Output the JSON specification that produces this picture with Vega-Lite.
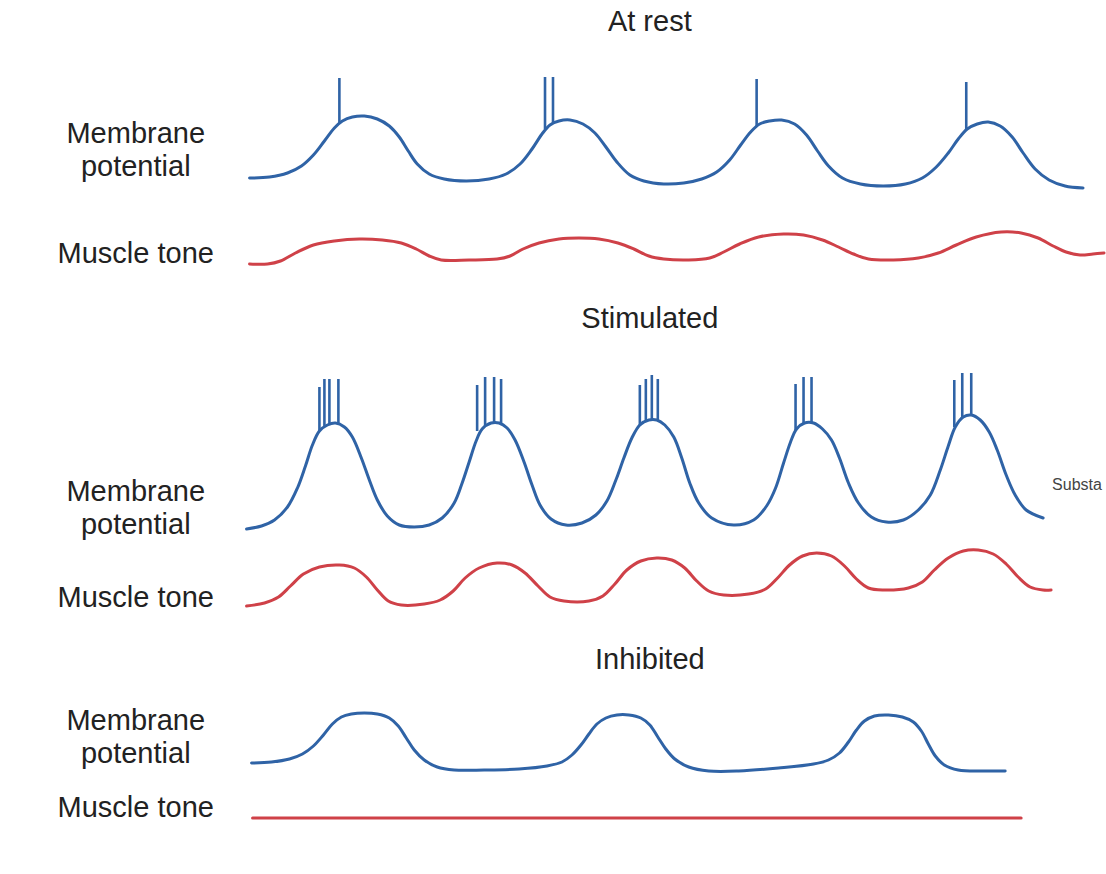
{
  "$schema": "https://vega.github.io/schema/vega-lite/v6.json",
  "width": 1106,
  "height": 874,
  "autosize": {"type": "fit", "contains": "padding"},
  "padding": 0,
  "background": "white",
  "config": {"view": {"stroke": null}},
  "datasets": {
    "curves": [
      {"trace":"rest_mp","signal":"Membrane potential","x":250,"y":178},{"trace":"rest_mp","signal":"Membrane potential","x":270,"y":177},{"trace":"rest_mp","signal":"Membrane potential","x":288,"y":173},{"trace":"rest_mp","signal":"Membrane potential","x":302,"y":166},{"trace":"rest_mp","signal":"Membrane potential","x":314,"y":155},{"trace":"rest_mp","signal":"Membrane potential","x":325,"y":141},{"trace":"rest_mp","signal":"Membrane potential","x":335,"y":128},{"trace":"rest_mp","signal":"Membrane potential","x":343,"y":121},{"trace":"rest_mp","signal":"Membrane potential","x":353,"y":117},{"trace":"rest_mp","signal":"Membrane potential","x":365,"y":116},{"trace":"rest_mp","signal":"Membrane potential","x":378,"y":119},{"trace":"rest_mp","signal":"Membrane potential","x":390,"y":126},{"trace":"rest_mp","signal":"Membrane potential","x":400,"y":137},{"trace":"rest_mp","signal":"Membrane potential","x":409,"y":151},{"trace":"rest_mp","signal":"Membrane potential","x":418,"y":164},{"trace":"rest_mp","signal":"Membrane potential","x":430,"y":174},{"trace":"rest_mp","signal":"Membrane potential","x":445,"y":179},{"trace":"rest_mp","signal":"Membrane potential","x":467,"y":181},{"trace":"rest_mp","signal":"Membrane potential","x":490,"y":179},{"trace":"rest_mp","signal":"Membrane potential","x":507,"y":174},{"trace":"rest_mp","signal":"Membrane potential","x":521,"y":164},{"trace":"rest_mp","signal":"Membrane potential","x":533,"y":149},{"trace":"rest_mp","signal":"Membrane potential","x":543,"y":134},{"trace":"rest_mp","signal":"Membrane potential","x":551,"y":125},{"trace":"rest_mp","signal":"Membrane potential","x":560,"y":121},{"trace":"rest_mp","signal":"Membrane potential","x":571,"y":120},{"trace":"rest_mp","signal":"Membrane potential","x":584,"y":124},{"trace":"rest_mp","signal":"Membrane potential","x":596,"y":133},{"trace":"rest_mp","signal":"Membrane potential","x":607,"y":147},{"trace":"rest_mp","signal":"Membrane potential","x":618,"y":162},{"trace":"rest_mp","signal":"Membrane potential","x":631,"y":175},{"trace":"rest_mp","signal":"Membrane potential","x":645,"y":181},{"trace":"rest_mp","signal":"Membrane potential","x":665,"y":184},{"trace":"rest_mp","signal":"Membrane potential","x":685,"y":183},{"trace":"rest_mp","signal":"Membrane potential","x":703,"y":179},{"trace":"rest_mp","signal":"Membrane potential","x":718,"y":172},{"trace":"rest_mp","signal":"Membrane potential","x":731,"y":160},{"trace":"rest_mp","signal":"Membrane potential","x":742,"y":145},{"trace":"rest_mp","signal":"Membrane potential","x":752,"y":132},{"trace":"rest_mp","signal":"Membrane potential","x":761,"y":124},{"trace":"rest_mp","signal":"Membrane potential","x":771,"y":121},{"trace":"rest_mp","signal":"Membrane potential","x":783,"y":120},{"trace":"rest_mp","signal":"Membrane potential","x":796,"y":124},{"trace":"rest_mp","signal":"Membrane potential","x":808,"y":135},{"trace":"rest_mp","signal":"Membrane potential","x":819,"y":151},{"trace":"rest_mp","signal":"Membrane potential","x":830,"y":166},{"trace":"rest_mp","signal":"Membrane potential","x":844,"y":178},{"trace":"rest_mp","signal":"Membrane potential","x":862,"y":184},{"trace":"rest_mp","signal":"Membrane potential","x":885,"y":186},{"trace":"rest_mp","signal":"Membrane potential","x":907,"y":184},{"trace":"rest_mp","signal":"Membrane potential","x":924,"y":178},{"trace":"rest_mp","signal":"Membrane potential","x":938,"y":167},{"trace":"rest_mp","signal":"Membrane potential","x":950,"y":153},{"trace":"rest_mp","signal":"Membrane potential","x":960,"y":139},{"trace":"rest_mp","signal":"Membrane potential","x":969,"y":129},{"trace":"rest_mp","signal":"Membrane potential","x":979,"y":124},{"trace":"rest_mp","signal":"Membrane potential","x":990,"y":122},{"trace":"rest_mp","signal":"Membrane potential","x":1002,"y":126},{"trace":"rest_mp","signal":"Membrane potential","x":1014,"y":137},{"trace":"rest_mp","signal":"Membrane potential","x":1025,"y":153},{"trace":"rest_mp","signal":"Membrane potential","x":1037,"y":169},{"trace":"rest_mp","signal":"Membrane potential","x":1051,"y":180},{"trace":"rest_mp","signal":"Membrane potential","x":1067,"y":186},{"trace":"rest_mp","signal":"Membrane potential","x":1085,"y":188},

      {"trace":"rest_mt","signal":"Muscle tone","x":250,"y":264},{"trace":"rest_mt","signal":"Muscle tone","x":268,"y":264},{"trace":"rest_mt","signal":"Muscle tone","x":281,"y":261},{"trace":"rest_mt","signal":"Muscle tone","x":296,"y":253},{"trace":"rest_mt","signal":"Muscle tone","x":314,"y":245},{"trace":"rest_mt","signal":"Muscle tone","x":335,"y":241},{"trace":"rest_mt","signal":"Muscle tone","x":360,"y":239},{"trace":"rest_mt","signal":"Muscle tone","x":383,"y":240},{"trace":"rest_mt","signal":"Muscle tone","x":402,"y":243},{"trace":"rest_mt","signal":"Muscle tone","x":417,"y":249},{"trace":"rest_mt","signal":"Muscle tone","x":430,"y":256},{"trace":"rest_mt","signal":"Muscle tone","x":442,"y":260},{"trace":"rest_mt","signal":"Muscle tone","x":470,"y":260},{"trace":"rest_mt","signal":"Muscle tone","x":498,"y":259},{"trace":"rest_mt","signal":"Muscle tone","x":511,"y":256},{"trace":"rest_mt","signal":"Muscle tone","x":524,"y":249},{"trace":"rest_mt","signal":"Muscle tone","x":540,"y":243},{"trace":"rest_mt","signal":"Muscle tone","x":560,"y":239},{"trace":"rest_mt","signal":"Muscle tone","x":580,"y":238},{"trace":"rest_mt","signal":"Muscle tone","x":600,"y":239},{"trace":"rest_mt","signal":"Muscle tone","x":619,"y":243},{"trace":"rest_mt","signal":"Muscle tone","x":635,"y":249},{"trace":"rest_mt","signal":"Muscle tone","x":650,"y":256},{"trace":"rest_mt","signal":"Muscle tone","x":665,"y":259},{"trace":"rest_mt","signal":"Muscle tone","x":690,"y":260},{"trace":"rest_mt","signal":"Muscle tone","x":711,"y":258},{"trace":"rest_mt","signal":"Muscle tone","x":725,"y":252},{"trace":"rest_mt","signal":"Muscle tone","x":741,"y":244},{"trace":"rest_mt","signal":"Muscle tone","x":760,"y":237},{"trace":"rest_mt","signal":"Muscle tone","x":785,"y":234},{"trace":"rest_mt","signal":"Muscle tone","x":805,"y":235},{"trace":"rest_mt","signal":"Muscle tone","x":824,"y":240},{"trace":"rest_mt","signal":"Muscle tone","x":840,"y":247},{"trace":"rest_mt","signal":"Muscle tone","x":855,"y":254},{"trace":"rest_mt","signal":"Muscle tone","x":870,"y":259},{"trace":"rest_mt","signal":"Muscle tone","x":895,"y":260},{"trace":"rest_mt","signal":"Muscle tone","x":920,"y":258},{"trace":"rest_mt","signal":"Muscle tone","x":940,"y":253},{"trace":"rest_mt","signal":"Muscle tone","x":958,"y":245},{"trace":"rest_mt","signal":"Muscle tone","x":978,"y":237},{"trace":"rest_mt","signal":"Muscle tone","x":1003,"y":232},{"trace":"rest_mt","signal":"Muscle tone","x":1023,"y":233},{"trace":"rest_mt","signal":"Muscle tone","x":1040,"y":238},{"trace":"rest_mt","signal":"Muscle tone","x":1055,"y":246},{"trace":"rest_mt","signal":"Muscle tone","x":1068,"y":252},{"trace":"rest_mt","signal":"Muscle tone","x":1082,"y":255},{"trace":"rest_mt","signal":"Muscle tone","x":1095,"y":254},{"trace":"rest_mt","signal":"Muscle tone","x":1106,"y":253},

      {"trace":"stim_mp","signal":"Membrane potential","x":247,"y":529},{"trace":"stim_mp","signal":"Membrane potential","x":262,"y":526},{"trace":"stim_mp","signal":"Membrane potential","x":275,"y":520},{"trace":"stim_mp","signal":"Membrane potential","x":288,"y":507},{"trace":"stim_mp","signal":"Membrane potential","x":298,"y":488},{"trace":"stim_mp","signal":"Membrane potential","x":306,"y":466},{"trace":"stim_mp","signal":"Membrane potential","x":313,"y":445},{"trace":"stim_mp","signal":"Membrane potential","x":320,"y":431},{"trace":"stim_mp","signal":"Membrane potential","x":328,"y":425},{"trace":"stim_mp","signal":"Membrane potential","x":336,"y":423},{"trace":"stim_mp","signal":"Membrane potential","x":345,"y":427},{"trace":"stim_mp","signal":"Membrane potential","x":353,"y":437},{"trace":"stim_mp","signal":"Membrane potential","x":362,"y":458},{"trace":"stim_mp","signal":"Membrane potential","x":370,"y":480},{"trace":"stim_mp","signal":"Membrane potential","x":378,"y":500},{"trace":"stim_mp","signal":"Membrane potential","x":388,"y":516},{"trace":"stim_mp","signal":"Membrane potential","x":400,"y":525},{"trace":"stim_mp","signal":"Membrane potential","x":415,"y":527},{"trace":"stim_mp","signal":"Membrane potential","x":430,"y":525},{"trace":"stim_mp","signal":"Membrane potential","x":443,"y":518},{"trace":"stim_mp","signal":"Membrane potential","x":455,"y":503},{"trace":"stim_mp","signal":"Membrane potential","x":463,"y":483},{"trace":"stim_mp","signal":"Membrane potential","x":470,"y":462},{"trace":"stim_mp","signal":"Membrane potential","x":477,"y":441},{"trace":"stim_mp","signal":"Membrane potential","x":483,"y":429},{"trace":"stim_mp","signal":"Membrane potential","x":492,"y":423},{"trace":"stim_mp","signal":"Membrane potential","x":500,"y":423},{"trace":"stim_mp","signal":"Membrane potential","x":508,"y":428},{"trace":"stim_mp","signal":"Membrane potential","x":516,"y":440},{"trace":"stim_mp","signal":"Membrane potential","x":525,"y":462},{"trace":"stim_mp","signal":"Membrane potential","x":533,"y":485},{"trace":"stim_mp","signal":"Membrane potential","x":541,"y":505},{"trace":"stim_mp","signal":"Membrane potential","x":552,"y":519},{"trace":"stim_mp","signal":"Membrane potential","x":567,"y":525},{"trace":"stim_mp","signal":"Membrane potential","x":583,"y":523},{"trace":"stim_mp","signal":"Membrane potential","x":597,"y":515},{"trace":"stim_mp","signal":"Membrane potential","x":608,"y":501},{"trace":"stim_mp","signal":"Membrane potential","x":617,"y":480},{"trace":"stim_mp","signal":"Membrane potential","x":625,"y":458},{"trace":"stim_mp","signal":"Membrane potential","x":633,"y":438},{"trace":"stim_mp","signal":"Membrane potential","x":641,"y":425},{"trace":"stim_mp","signal":"Membrane potential","x":650,"y":420},{"trace":"stim_mp","signal":"Membrane potential","x":658,"y":420},{"trace":"stim_mp","signal":"Membrane potential","x":666,"y":425},{"trace":"stim_mp","signal":"Membrane potential","x":675,"y":437},{"trace":"stim_mp","signal":"Membrane potential","x":683,"y":458},{"trace":"stim_mp","signal":"Membrane potential","x":691,"y":483},{"trace":"stim_mp","signal":"Membrane potential","x":700,"y":503},{"trace":"stim_mp","signal":"Membrane potential","x":713,"y":518},{"trace":"stim_mp","signal":"Membrane potential","x":735,"y":525},{"trace":"stim_mp","signal":"Membrane potential","x":755,"y":520},{"trace":"stim_mp","signal":"Membrane potential","x":768,"y":506},{"trace":"stim_mp","signal":"Membrane potential","x":777,"y":488},{"trace":"stim_mp","signal":"Membrane potential","x":785,"y":463},{"trace":"stim_mp","signal":"Membrane potential","x":792,"y":442},{"trace":"stim_mp","signal":"Membrane potential","x":798,"y":429},{"trace":"stim_mp","signal":"Membrane potential","x":806,"y":423},{"trace":"stim_mp","signal":"Membrane potential","x":815,"y":423},{"trace":"stim_mp","signal":"Membrane potential","x":824,"y":429},{"trace":"stim_mp","signal":"Membrane potential","x":833,"y":440},{"trace":"stim_mp","signal":"Membrane potential","x":841,"y":458},{"trace":"stim_mp","signal":"Membrane potential","x":850,"y":483},{"trace":"stim_mp","signal":"Membrane potential","x":860,"y":503},{"trace":"stim_mp","signal":"Membrane potential","x":873,"y":517},{"trace":"stim_mp","signal":"Membrane potential","x":888,"y":522},{"trace":"stim_mp","signal":"Membrane potential","x":905,"y":520},{"trace":"stim_mp","signal":"Membrane potential","x":920,"y":510},{"trace":"stim_mp","signal":"Membrane potential","x":932,"y":495},{"trace":"stim_mp","signal":"Membrane potential","x":942,"y":470},{"trace":"stim_mp","signal":"Membrane potential","x":950,"y":446},{"trace":"stim_mp","signal":"Membrane potential","x":957,"y":427},{"trace":"stim_mp","signal":"Membrane potential","x":965,"y":417},{"trace":"stim_mp","signal":"Membrane potential","x":973,"y":415},{"trace":"stim_mp","signal":"Membrane potential","x":982,"y":420},{"trace":"stim_mp","signal":"Membrane potential","x":991,"y":432},{"trace":"stim_mp","signal":"Membrane potential","x":999,"y":450},{"trace":"stim_mp","signal":"Membrane potential","x":1008,"y":475},{"trace":"stim_mp","signal":"Membrane potential","x":1017,"y":495},{"trace":"stim_mp","signal":"Membrane potential","x":1028,"y":510},{"trace":"stim_mp","signal":"Membrane potential","x":1045,"y":518},

      {"trace":"stim_mt","signal":"Muscle tone","x":247,"y":606},{"trace":"stim_mt","signal":"Muscle tone","x":265,"y":603},{"trace":"stim_mt","signal":"Muscle tone","x":279,"y":597},{"trace":"stim_mt","signal":"Muscle tone","x":291,"y":586},{"trace":"stim_mt","signal":"Muscle tone","x":304,"y":574},{"trace":"stim_mt","signal":"Muscle tone","x":320,"y":567},{"trace":"stim_mt","signal":"Muscle tone","x":340,"y":565},{"trace":"stim_mt","signal":"Muscle tone","x":355,"y":568},{"trace":"stim_mt","signal":"Muscle tone","x":367,"y":577},{"trace":"stim_mt","signal":"Muscle tone","x":378,"y":590},{"trace":"stim_mt","signal":"Muscle tone","x":389,"y":601},{"trace":"stim_mt","signal":"Muscle tone","x":402,"y":605},{"trace":"stim_mt","signal":"Muscle tone","x":425,"y":604},{"trace":"stim_mt","signal":"Muscle tone","x":441,"y":600},{"trace":"stim_mt","signal":"Muscle tone","x":454,"y":591},{"trace":"stim_mt","signal":"Muscle tone","x":466,"y":578},{"trace":"stim_mt","signal":"Muscle tone","x":480,"y":568},{"trace":"stim_mt","signal":"Muscle tone","x":498,"y":563},{"trace":"stim_mt","signal":"Muscle tone","x":513,"y":565},{"trace":"stim_mt","signal":"Muscle tone","x":526,"y":573},{"trace":"stim_mt","signal":"Muscle tone","x":539,"y":586},{"trace":"stim_mt","signal":"Muscle tone","x":551,"y":597},{"trace":"stim_mt","signal":"Muscle tone","x":565,"y":601},{"trace":"stim_mt","signal":"Muscle tone","x":590,"y":601},{"trace":"stim_mt","signal":"Muscle tone","x":604,"y":596},{"trace":"stim_mt","signal":"Muscle tone","x":616,"y":584},{"trace":"stim_mt","signal":"Muscle tone","x":628,"y":570},{"trace":"stim_mt","signal":"Muscle tone","x":642,"y":561},{"trace":"stim_mt","signal":"Muscle tone","x":658,"y":558},{"trace":"stim_mt","signal":"Muscle tone","x":673,"y":560},{"trace":"stim_mt","signal":"Muscle tone","x":686,"y":568},{"trace":"stim_mt","signal":"Muscle tone","x":698,"y":581},{"trace":"stim_mt","signal":"Muscle tone","x":710,"y":591},{"trace":"stim_mt","signal":"Muscle tone","x":725,"y":595},{"trace":"stim_mt","signal":"Muscle tone","x":750,"y":594},{"trace":"stim_mt","signal":"Muscle tone","x":767,"y":589},{"trace":"stim_mt","signal":"Muscle tone","x":779,"y":578},{"trace":"stim_mt","signal":"Muscle tone","x":791,"y":565},{"trace":"stim_mt","signal":"Muscle tone","x":804,"y":556},{"trace":"stim_mt","signal":"Muscle tone","x":818,"y":553},{"trace":"stim_mt","signal":"Muscle tone","x":833,"y":556},{"trace":"stim_mt","signal":"Muscle tone","x":846,"y":566},{"trace":"stim_mt","signal":"Muscle tone","x":858,"y":579},{"trace":"stim_mt","signal":"Muscle tone","x":870,"y":588},{"trace":"stim_mt","signal":"Muscle tone","x":885,"y":590},{"trace":"stim_mt","signal":"Muscle tone","x":910,"y":588},{"trace":"stim_mt","signal":"Muscle tone","x":924,"y":582},{"trace":"stim_mt","signal":"Muscle tone","x":936,"y":570},{"trace":"stim_mt","signal":"Muscle tone","x":950,"y":558},{"trace":"stim_mt","signal":"Muscle tone","x":965,"y":551},{"trace":"stim_mt","signal":"Muscle tone","x":980,"y":550},{"trace":"stim_mt","signal":"Muscle tone","x":995,"y":554},{"trace":"stim_mt","signal":"Muscle tone","x":1008,"y":564},{"trace":"stim_mt","signal":"Muscle tone","x":1020,"y":577},{"trace":"stim_mt","signal":"Muscle tone","x":1032,"y":587},{"trace":"stim_mt","signal":"Muscle tone","x":1045,"y":590},{"trace":"stim_mt","signal":"Muscle tone","x":1053,"y":590},

      {"trace":"inh_mp","signal":"Membrane potential","x":252,"y":763},{"trace":"inh_mp","signal":"Membrane potential","x":272,"y":762},{"trace":"inh_mp","signal":"Membrane potential","x":290,"y":759},{"trace":"inh_mp","signal":"Membrane potential","x":303,"y":754},{"trace":"inh_mp","signal":"Membrane potential","x":314,"y":746},{"trace":"inh_mp","signal":"Membrane potential","x":324,"y":735},{"trace":"inh_mp","signal":"Membrane potential","x":333,"y":724},{"trace":"inh_mp","signal":"Membrane potential","x":342,"y":717},{"trace":"inh_mp","signal":"Membrane potential","x":352,"y":714},{"trace":"inh_mp","signal":"Membrane potential","x":365,"y":713},{"trace":"inh_mp","signal":"Membrane potential","x":378,"y":714},{"trace":"inh_mp","signal":"Membrane potential","x":390,"y":718},{"trace":"inh_mp","signal":"Membrane potential","x":399,"y":726},{"trace":"inh_mp","signal":"Membrane potential","x":407,"y":738},{"trace":"inh_mp","signal":"Membrane potential","x":415,"y":750},{"trace":"inh_mp","signal":"Membrane potential","x":425,"y":760},{"trace":"inh_mp","signal":"Membrane potential","x":438,"y":767},{"trace":"inh_mp","signal":"Membrane potential","x":455,"y":770},{"trace":"inh_mp","signal":"Membrane potential","x":485,"y":770},{"trace":"inh_mp","signal":"Membrane potential","x":520,"y":769},{"trace":"inh_mp","signal":"Membrane potential","x":548,"y":766},{"trace":"inh_mp","signal":"Membrane potential","x":563,"y":762},{"trace":"inh_mp","signal":"Membrane potential","x":573,"y":755},{"trace":"inh_mp","signal":"Membrane potential","x":582,"y":745},{"trace":"inh_mp","signal":"Membrane potential","x":590,"y":734},{"trace":"inh_mp","signal":"Membrane potential","x":598,"y":724},{"trace":"inh_mp","signal":"Membrane potential","x":607,"y":718},{"trace":"inh_mp","signal":"Membrane potential","x":618,"y":715},{"trace":"inh_mp","signal":"Membrane potential","x":630,"y":715},{"trace":"inh_mp","signal":"Membrane potential","x":642,"y":718},{"trace":"inh_mp","signal":"Membrane potential","x":651,"y":725},{"trace":"inh_mp","signal":"Membrane potential","x":659,"y":737},{"trace":"inh_mp","signal":"Membrane potential","x":667,"y":749},{"trace":"inh_mp","signal":"Membrane potential","x":676,"y":759},{"trace":"inh_mp","signal":"Membrane potential","x":690,"y":767},{"trace":"inh_mp","signal":"Membrane potential","x":710,"y":771},{"trace":"inh_mp","signal":"Membrane potential","x":740,"y":771},{"trace":"inh_mp","signal":"Membrane potential","x":780,"y":768},{"trace":"inh_mp","signal":"Membrane potential","x":815,"y":764},{"trace":"inh_mp","signal":"Membrane potential","x":830,"y":760},{"trace":"inh_mp","signal":"Membrane potential","x":841,"y":753},{"trace":"inh_mp","signal":"Membrane potential","x":850,"y":742},{"trace":"inh_mp","signal":"Membrane potential","x":858,"y":730},{"trace":"inh_mp","signal":"Membrane potential","x":866,"y":721},{"trace":"inh_mp","signal":"Membrane potential","x":876,"y":716},{"trace":"inh_mp","signal":"Membrane potential","x":890,"y":715},{"trace":"inh_mp","signal":"Membrane potential","x":904,"y":717},{"trace":"inh_mp","signal":"Membrane potential","x":915,"y":722},{"trace":"inh_mp","signal":"Membrane potential","x":923,"y":731},{"trace":"inh_mp","signal":"Membrane potential","x":930,"y":744},{"trace":"inh_mp","signal":"Membrane potential","x":937,"y":756},{"trace":"inh_mp","signal":"Membrane potential","x":946,"y":765},{"trace":"inh_mp","signal":"Membrane potential","x":960,"y":770},{"trace":"inh_mp","signal":"Membrane potential","x":985,"y":771},{"trace":"inh_mp","signal":"Membrane potential","x":1007,"y":771},

      {"trace":"inh_mt","signal":"Muscle tone","x":253,"y":818},{"trace":"inh_mt","signal":"Muscle tone","x":1023,"y":818}
    ],
    "spikes": [
      {"x":340,"top":78,"base":123},{"x":546,"top":77,"base":129},{"x":554,"top":77,"base":124},{"x":758,"top":79,"base":126},{"x":968,"top":82,"base":129},
      {"x":320,"top":387,"base":431},{"x":325,"top":379,"base":427},{"x":330,"top":379,"base":425},{"x":339,"top":379,"base":423},
      {"x":478,"top":385,"base":431},{"x":486,"top":377,"base":426},{"x":495,"top":377,"base":423},{"x":502,"top":379,"base":424},
      {"x":641,"top":385,"base":426},{"x":647,"top":379,"base":422},{"x":653,"top":375,"base":420},{"x":659,"top":379,"base":421},
      {"x":797,"top":384,"base":430},{"x":805,"top":377,"base":423},{"x":813,"top":377,"base":423},
      {"x":956,"top":380,"base":427},{"x":964,"top":373,"base":418},{"x":973,"top":373,"base":415}
    ],
    "labels": [
      {"text":"At rest","x":651,"y":31},
      {"text":"Membrane","x":136,"y":143},
      {"text":"potential","x":136,"y":176},
      {"text":"Muscle tone","x":136,"y":263},
      {"text":"Stimulated","x":651,"y":328},
      {"text":"Membrane","x":136,"y":501},
      {"text":"potential","x":136,"y":534},
      {"text":"Muscle tone","x":136,"y":607},
      {"text":"Inhibited","x":651,"y":669},
      {"text":"Membrane","x":136,"y":730},
      {"text":"potential","x":136,"y":763},
      {"text":"Muscle tone","x":136,"y":817}
    ],
    "notes": [
      {"text":"Substa","x":1054,"y":490}
    ]
  },
  "layer": [
    {
      "data": {"name": "curves"},
      "mark": {"type": "line", "interpolate": "catmull-rom", "strokeWidth": 3, "strokeCap": "round", "strokeJoin": "round"},
      "encoding": {
        "x": {"field": "x", "type": "quantitative", "scale": {"domain": [0, 1106], "nice": false, "zero": false}, "axis": null},
        "y": {"field": "y", "type": "quantitative", "scale": {"domain": [0, 874], "nice": false, "zero": false, "reverse": true}, "axis": null},
        "detail": {"field": "trace", "type": "nominal"},
        "color": {"field": "signal", "type": "nominal", "scale": {"domain": ["Membrane potential", "Muscle tone"], "range": ["#2f63a6", "#cf4148"]}, "legend": null}
      }
    },
    {
      "data": {"name": "spikes"},
      "mark": {"type": "rule", "strokeWidth": 2.6, "color": "#2f63a6"},
      "encoding": {
        "x": {"field": "x", "type": "quantitative", "scale": {"domain": [0, 1106], "nice": false, "zero": false}, "axis": null},
        "y": {"field": "top", "type": "quantitative", "scale": {"domain": [0, 874], "nice": false, "zero": false, "reverse": true}, "axis": null},
        "y2": {"field": "base"}
      }
    },
    {
      "data": {"name": "labels"},
      "mark": {"type": "text", "font": "Liberation Sans", "fontSize": 29, "color": "#222222", "align": "center", "baseline": "alphabetic"},
      "encoding": {
        "x": {"field": "x", "type": "quantitative", "scale": {"domain": [0, 1106], "nice": false, "zero": false}, "axis": null},
        "y": {"field": "y", "type": "quantitative", "scale": {"domain": [0, 874], "nice": false, "zero": false, "reverse": true}, "axis": null},
        "text": {"field": "text", "type": "nominal"}
      }
    },
    {
      "data": {"name": "notes"},
      "mark": {"type": "text", "font": "Liberation Sans", "fontSize": 16, "color": "#444444", "align": "left", "baseline": "alphabetic"},
      "encoding": {
        "x": {"field": "x", "type": "quantitative", "scale": {"domain": [0, 1106], "nice": false, "zero": false}, "axis": null},
        "y": {"field": "y", "type": "quantitative", "scale": {"domain": [0, 874], "nice": false, "zero": false, "reverse": true}, "axis": null},
        "text": {"field": "text", "type": "nominal"}
      }
    }
  ]
}
